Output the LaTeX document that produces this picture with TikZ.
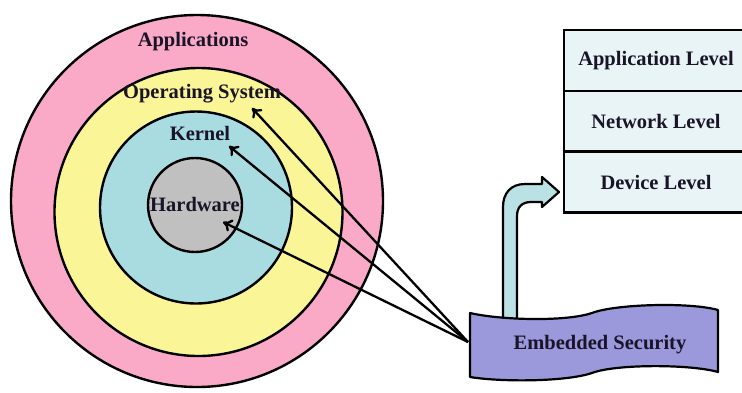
\documentclass[tikz,border=0pt]{standalone}
\usepackage{fontspec}
\setmainfont{Liberation Serif}
\usetikzlibrary{arrows.meta}
\definecolor{appPink}{RGB}{250,170,198}
\definecolor{osYellow}{RGB}{250,245,150}
\definecolor{kernCyan}{RGB}{168,220,224}
\definecolor{hwGray}{RGB}{192,192,192}
\definecolor{secPurple}{RGB}{155,152,220}
\definecolor{lvlFill}{RGB}{233,244,246}
\definecolor{bendFill}{RGB}{186,225,228}
\definecolor{txt}{RGB}{25,20,40}
\begin{document}
\begin{tikzpicture}[x=1pt,y=-1pt,
  font=\bfseries\fontsize{20.5}{24}\selectfont,
  ring/.style={draw=black,line width=2.4pt},
  lbl/.style={inner sep=0pt,text=txt},
  lvlbox/.style={draw=black,line width=2.2pt,fill=lvlFill,minimum width=184pt,minimum height=61pt,inner sep=0pt,text=txt},
  ptr/.style={-{To[length=9pt,width=13pt,line width=2.3pt]},line width=2.3pt}]
\useasboundingbox (0,0) rectangle (742,392);
\clip (0,0) rectangle (742,392);
% rings
\filldraw[ring,fill=appPink] (197,201) circle [radius=186pt];
\filldraw[ring,fill=osYellow] (198.5,212) circle [radius=144pt];
\filldraw[ring,fill=kernCyan] (196,207.5) circle [radius=96pt];
\filldraw[ring,fill=hwGray] (195,205) circle [radius=47pt];
% ring labels
\node[lbl] (apps) at (193,42) {Applications};
\node[lbl] (os) at (202,94) {Operating System};
\node[lbl] (kern) at (200,133) {Kernel};
\node[lbl] (hw) at (195,204) {Hardware};
% level table
\node[lvlbox] (appl) at (656,60.5) {Application Level};
\node[lvlbox] (netl) at (656,121.5) {Network Level};
\node[lvlbox] (devl) at (656,182) {Device Level};
% bent arrow
\filldraw[draw=black,line width=2.2pt,fill=bendFill,line join=round]
  (503,325) -- (503,207) .. controls (503,193) and (511,184) .. (525,184) -- (542,184)
  -- (542,177) -- (559,192) -- (542,207) -- (542,202) -- (531,202)
  .. controls (522,202) and (517,207) .. (517,216) -- (517,325);
% banner
\filldraw[draw=black,line width=2.2pt,fill=secPurple,line join=round]
  (470,313) .. controls (500,320) and (565,322) .. (592,313)
  .. controls (615,304) and (690,302) .. (718,310)
  -- (718,372) .. controls (690,364) and (615,364) .. (592,373)
  .. controls (565,382) and (500,382) .. (470,377) -- cycle;
\node[lbl] (sec) at (600,345) {Embedded Security};
% pointers
\coordinate (src) at (468,342);
\coordinate (osT) at (252,108);
\coordinate (kT) at (229,146);
\coordinate (hwT) at (223,222);
\draw[ptr] (src) -- (osT);
\draw[ptr] (src) -- (kT);
\draw[ptr] (src) -- (hwT);
\end{tikzpicture}
\end{document}
